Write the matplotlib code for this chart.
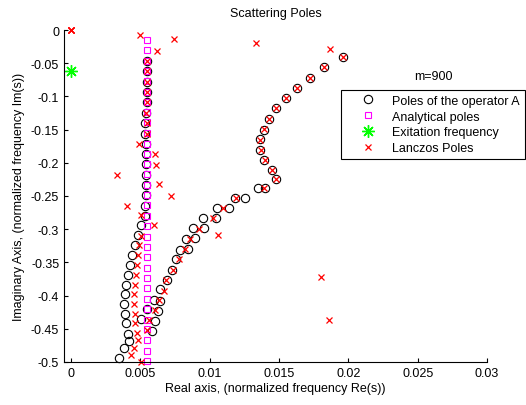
import matplotlib
matplotlib.use('Agg')
import matplotlib.pyplot as plt

plt.rcParams['font.family'] = ['Liberation Sans', 'DejaVu Sans']

# poles of the operator A (black circles)
op_re = [0.00545, 0.00545, 0.00545, 0.00545, 0.00545, 0.00539, 0.00536, 0.00534,
         0.00538, 0.00538, 0.00538, 0.00538, 0.00538, 0.00538, 0.00536, 0.00534,
         0.00508, 0.00482, 0.00462, 0.00441, 0.00426, 0.00408, 0.00397, 0.00390,
         0.00386, 0.00390, 0.00397, 0.00408, 0.00417, 0.00383, 0.00349,
         0.01960, 0.01827, 0.01724, 0.01630, 0.01551, 0.01481, 0.01426, 0.01389,
         0.01366, 0.01363, 0.01390, 0.01451, 0.01482, 0.01349, 0.01396, 0.01183,
         0.01255, 0.01053, 0.01140, 0.00955, 0.01044, 0.00882, 0.00962, 0.00830,
         0.00895, 0.00783, 0.00841, 0.00758, 0.00729, 0.00693, 0.00642, 0.00599,
         0.00642, 0.00626, 0.00606, 0.00583, 0.00549, 0.00505]
op_im = [-0.0462, -0.0622, -0.0779, -0.0934, -0.1089, -0.1245, -0.1405, -0.1562,
         -0.1717, -0.1867, -0.2023, -0.2179, -0.2334, -0.2489, -0.2646, -0.2797,
         -0.2937, -0.3083, -0.3233, -0.3389, -0.3535, -0.3685, -0.3833, -0.3976,
         -0.4127, -0.4270, -0.4420, -0.4571, -0.4679, -0.4789, -0.4940,
         -0.0411, -0.0562, -0.0718, -0.0873, -0.1024, -0.1179, -0.1340, -0.1506,
         -0.1649, -0.1800, -0.1958, -0.2104, -0.2244, -0.2384, -0.2384, -0.2530,
         -0.2530, -0.2681, -0.2681, -0.2836, -0.2836, -0.2986, -0.2986, -0.3148,
         -0.3140, -0.3313, -0.3298, -0.3456, -0.3614, -0.3765, -0.3901, -0.4066,
         -0.4074, -0.4227, -0.4378, -0.4529, -0.4209, -0.4352]

# analytical poles (magenta squares)
ana_re = [0.00547] * 32
ana_im = [-0.015, -0.030, -0.046, -0.061, -0.077, -0.093, -0.108, -0.124,
          -0.139, -0.155, -0.171, -0.186, -0.202, -0.217, -0.233, -0.249,
          -0.264, -0.280, -0.295, -0.311, -0.327, -0.342, -0.358, -0.373,
          -0.389, -0.405, -0.420, -0.436, -0.451, -0.467, -0.483, -0.498]

# excitation frequency (green star)
exc_re = [0.0]
exc_im = [-0.0613]

# Lanczos poles (red x)
lz_re = [0.0, 0.00004, -0.00003, 0.00002, 0.00495, 0.00743, 0.00617, 0.01332, 0.01866,
         0.00549, 0.00547, 0.00545, 0.00547, 0.00545, 0.00541, 0.00545, 0.00547,
         0.00489, 0.00606, 0.00616, 0.00335, 0.00637, 0.00720, 0.00402, 0.00503,
         0.00596, 0.01058,
         0.00503, 0.00491, 0.00485, 0.00477, 0.00466, 0.00460, 0.00455, 0.00453,
         0.00461, 0.00462, 0.00477, 0.00487, 0.00455, 0.00433, 0.00503,
         0.01960, 0.01827, 0.01724, 0.01630, 0.01551, 0.01481, 0.01426, 0.01390,
         0.01366, 0.01367, 0.01399, 0.01453, 0.01479, 0.01389,
         0.01190, 0.01093, 0.01021, 0.00924, 0.00862, 0.00823, 0.00779, 0.00738,
         0.00686, 0.00668, 0.00637, 0.00606, 0.00563, 0.00547,
         0.01801, 0.01861]
lz_im = [0.0, -0.0004, -0.0006, 0.0005, -0.0068, -0.0139, -0.0309, -0.0196, -0.0286,
         -0.0462, -0.0617, -0.0776, -0.0934, -0.1089, -0.1245, -0.1405, -0.1562,
         -0.1712, -0.1867, -0.2033, -0.2184, -0.2315, -0.2495, -0.2655, -0.2779,
         -0.2941, -0.3087,
         -0.3102, -0.3238, -0.3389, -0.3535, -0.3685, -0.3833, -0.3979, -0.4130,
         -0.4273, -0.4417, -0.4556, -0.4669, -0.4789, -0.4890, -0.5005,
         -0.0411, -0.0562, -0.0718, -0.0873, -0.1024, -0.1179, -0.1340, -0.1498,
         -0.1657, -0.1803, -0.1958, -0.2108, -0.2244, -0.2384,
         -0.2530, -0.2681, -0.2836, -0.2992, -0.3148, -0.3298, -0.3453, -0.3614,
         -0.3758, -0.3926, -0.4066, -0.4224, -0.4360, -0.4518,
         -0.3720, -0.4363]

xticks = [0, 0.005, 0.01, 0.015, 0.02, 0.025, 0.03]
xticklabels = ['0', '0.005', '0.01', '0.015', '0.02', '0.025', '0.03']
yticks = [-0.5, -0.45, -0.4, -0.35, -0.3, -0.25, -0.2, -0.15, -0.1, -0.05, 0]
yticklabels = ['-0.5', '-0.45', '-0.4', '-0.35', '-0.3', '-0.25', '-0.2',
               '-0.15', '-0.1', '-0.05', '0']

fig = plt.figure(figsize=(5.26, 4.06), dpi=100)
ax = fig.add_axes([64 / 526, 43 / 406, 423 / 526, 332 / 406])

ax.plot(op_re, op_im, 'o', ms=6, mfc='none', mec='black', mew=0.8,
        label='Poles of the operator A', clip_on=False)
ax.plot(ana_re, ana_im, 's', ms=5, mfc='none', mec=(1, 0, 1), mew=0.8,
        label='Analytical poles', clip_on=False)
ax.plot(exc_re, exc_im, marker=(8, 2, 0), ls='none', ms=9, mec=(0, 1, 0),
        mew=1.0, label='Exitation frequency', clip_on=False)
ax.plot(lz_re, lz_im, 'x', ms=4, mec=(1, 0, 0), mew=0.9,
        label='Lanczos Poles', clip_on=False)

ax.set_xlim(-0.0005, 0.03)
ax.set_ylim(-0.5, 0)
ax.set_xticks(xticks)
ax.set_xticklabels(xticklabels)
ax.set_yticks(yticks)
ax.set_yticklabels(yticklabels)
ax.tick_params(direction='in', length=3, width=0.8, labelsize=9)
ax.spines['top'].set_visible(False)
ax.spines['right'].set_visible(False)
for s in ['left', 'bottom']:
    ax.spines[s].set_linewidth(0.8)

ax.set_title('Scattering Poles', fontsize=9, pad=10)
ax.set_xlabel('Real axis, (normalized frequency Re(s))', fontsize=9, labelpad=2)
ax.set_ylabel('Imaginary Axis, (normalized frequency Im(s))', fontsize=9, labelpad=4)
ax.text(0.0261, -0.0693, 'm=900', fontsize=9, ha='center', va='center')

leg = ax.legend(loc='upper left', bbox_to_anchor=(0.654, 0.820), borderaxespad=0,
                fontsize=9, numpoints=1, fancybox=False, framealpha=1,
                edgecolor='black', handlelength=3.6, handletextpad=0.1,
                labelspacing=0.3, borderpad=0.4)
leg.get_frame().set_linewidth(0.8)

fig.savefig('out.png', dpi=100)
